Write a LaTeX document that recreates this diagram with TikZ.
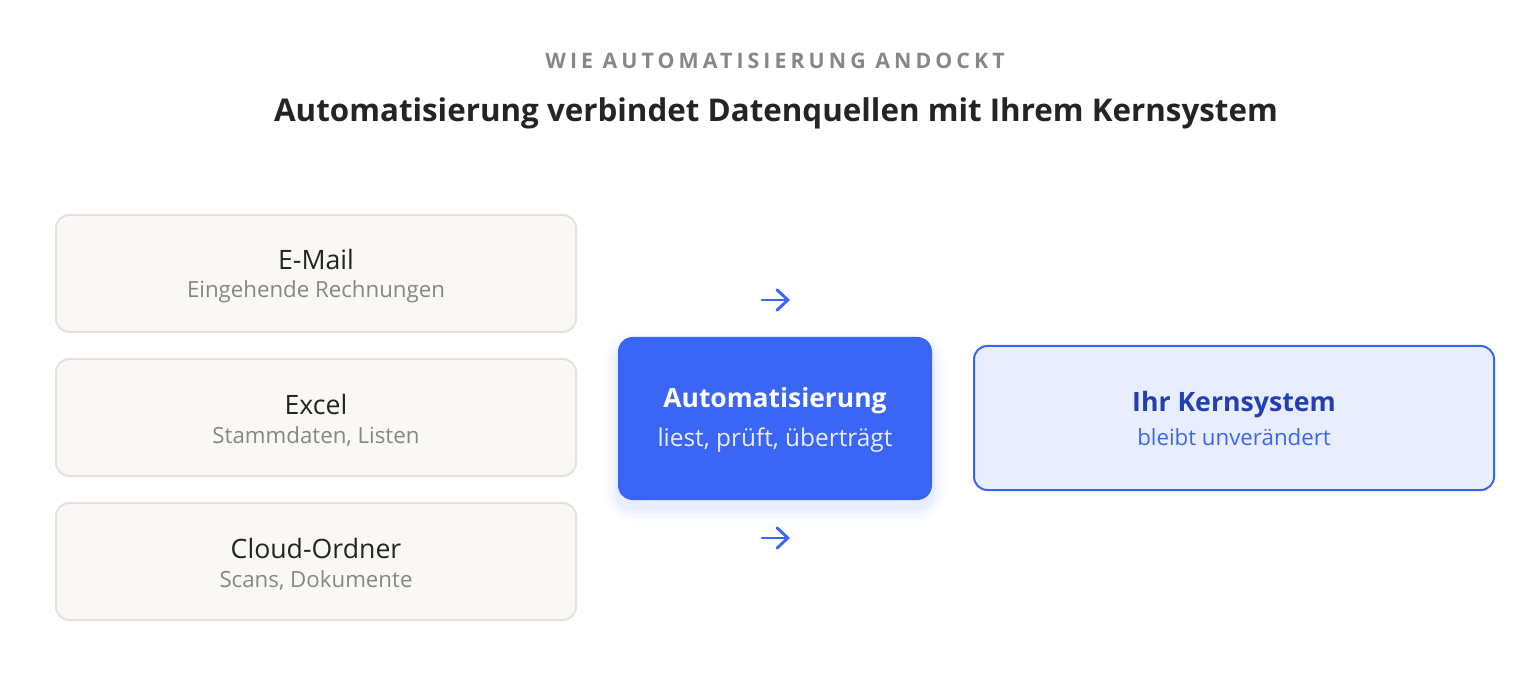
\documentclass[tikz,border=0pt]{standalone}
\usepackage{fontspec}
\setmainfont{Open Sans}
\usepackage{tikz}
\usetikzlibrary{arrows.meta}

\definecolor{srcfill}{HTML}{F9F8F5}
\definecolor{srcline}{HTML}{E4E2DD}
\definecolor{autoblue}{HTML}{3B66F5}
\definecolor{corefill}{HTML}{E8EEFE}
\definecolor{coredark}{HTML}{2340B3}
\definecolor{inkdark}{HTML}{242424}
\definecolor{inkgray}{HTML}{878787}

\tikzset{
  srcbox/.style={draw=srcline, line width=1.5pt, fill=srcfill, rounded corners=10pt},
  maintext/.style={font=\fontsize{20}{24}\selectfont, text=inkdark},
  subtext/.style={font=\fontsize{16.7}{20}\selectfont, text=inkgray},
  flow/.style={draw=autoblue, line width=2.2pt, line cap=round, -{Straight Barb[length=8pt,width=15pt,line cap=round]}}
}

\begin{document}
\begin{tikzpicture}[x=0.75pt,y=-0.75pt]

\useasboundingbox (0,0) rectangle (1540,680);

\node (kicker) at (775,61) {\fontsize{16}{19}\selectfont\bfseries\color{inkgray}\addfontfeature{LetterSpace=19}WIE AUTOMATISIERUNG ANDOCKT};
\node (title) at (776,113) {\fontsize{23.5}{28}\selectfont\bfseries\color{inkdark}Automatisierung verbindet Datenquellen mit Ihrem Kernsystem};

% quellen
\draw [srcbox] (56,215) rectangle (576,332);
\draw [srcbox] (56,359) rectangle (576,476);
\draw [srcbox] (56,503) rectangle (576,620);

\node [maintext] (mail) at (316,260) {E-Mail};
\node [subtext] (mailsub) at (316,292) {Eingehende Rechnungen};
\node [maintext] (excel) at (316,404) {Excel};
\node [subtext] (excelsub) at (316,436) {Stammdaten, Listen};
\node [maintext] (cloud) at (316,548) {Cloud-Ordner};
\node [subtext] (cloudsub) at (316,580) {Scans, Dokumente};

% automatisierung
\foreach \s/\o in {14/0.015,10/0.025,6/0.035,3/0.045}
  \fill [autoblue, opacity=\o, rounded corners=12pt+\s*0.75pt] (618-\s,337-\s+8) rectangle (932+\s,500+\s+8);
\fill [autoblue, rounded corners=11pt] (618,337) rectangle (932,500);
\node (auto) at (775,401) {\fontsize{19.8}{24}\selectfont\bfseries\color{white}Automatisierung};
\node (autosub) at (775,440) {\fontsize{18.3}{22}\selectfont\color{white!88!autoblue}liest, prüft, überträgt};

\coordinate (a1) at (762,300);
\coordinate (b1) at (790,300);
\coordinate (a2) at (762,538);
\coordinate (b2) at (790,538);
\draw [flow] (a1) -- (b1);
\draw [flow] (a2) -- (b2);

% kernsystem
\draw [draw=autoblue, line width=1.5pt, fill=corefill, rounded corners=10pt] (974,346) rectangle (1494,490);
\node (core) at (1234,405) {\fontsize{20}{24}\selectfont\bfseries\color{coredark}Ihr Kernsystem};
\node (coresub) at (1234,437) {\fontsize{16.7}{20}\selectfont\color{autoblue}bleibt unverändert};

\end{tikzpicture}
\end{document}
